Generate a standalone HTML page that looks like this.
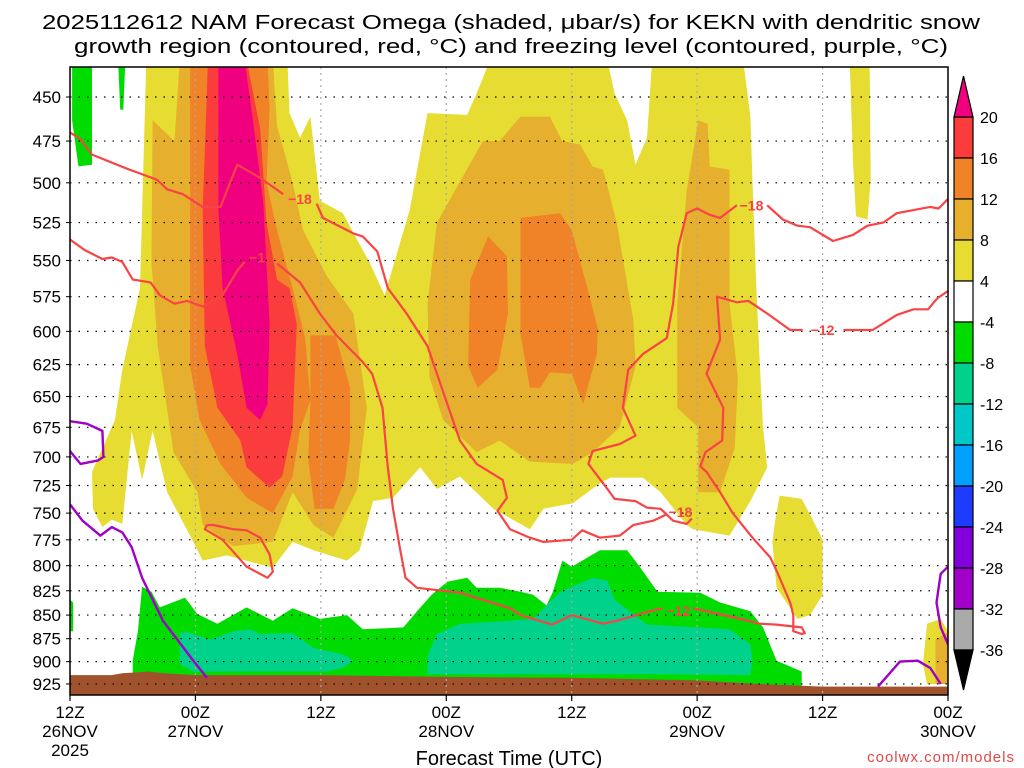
<!DOCTYPE html>
<html><head><meta charset="utf-8"><style>
html,body{margin:0;padding:0;background:#fff;}
svg{display:block;font-family:"Liberation Sans",sans-serif;}
</style></head><body>
<svg id="chart" width="1024" height="768" viewBox="0 0 1024 768" xmlns="http://www.w3.org/2000/svg">
<defs><clipPath id="plotclip"><rect x="70" y="67" width="878" height="628"/></clipPath></defs>
<g font-size="20" fill="#000">
<text x="511" y="29" text-anchor="middle" textLength="938" lengthAdjust="spacingAndGlyphs">2025112612 NAM Forecast Omega (shaded, μbar/s) for KEKN with dendritic snow</text>
<text x="511" y="53" text-anchor="middle" textLength="874" lengthAdjust="spacingAndGlyphs">growth region (contoured, red, °C) and freezing level (contoured, purple, °C)</text>
</g>
<g id="fills" clip-path="url(#plotclip)"></g>
<g id="grid"></g>
<g id="contours" clip-path="url(#plotclip)"></g>
<rect x="70" y="67" width="878" height="628" fill="none" stroke="#000" stroke-width="1.5"/>
<g id="axes" font-size="17"></g>
<g id="cbar" font-size="16"></g>
<text x="509" y="765" text-anchor="middle" font-size="20">Forecast Time (UTC)</text>
<text x="1015" y="762" text-anchor="end" font-size="15" fill="#e04848" letter-spacing="1">coolwx.com/models</text>
</svg>
<script>
// ---- data (hours since 12Z 26NOV, pressure hPa) ----
const levels = [450,475,500,525,550,575,600,625,650,675,700,725,750,775,800,825,850,875,900,925];
const timeTicks = [0,12,24,36,48,60,72,84];
const timeLabels = [["12Z","26NOV","2025"],["00Z","27NOV"],["12Z"],["00Z","28NOV"],["12Z"],["00Z","29NOV"],["12Z"],["00Z","30NOV"]];
const cbarLevels = ["20","16","12","8","4","-4","-8","-12","-16","-20","-24","-28","-32","-36"];
const cbarColors = ["#fa3c3c","#f08228","#e6af2d","#e6dc32","#ffffff","#00dc00","#00d28c","#00c8c8","#00a0ff","#1e3cff","#8200dc","#a000c8","#aaaaaa"];

const yellowMain = [[7.3,430],[6.7,569],[5,629],[4.3,669],[2.1,713],[2.2,746],[3.1,763],[4,756],[5,760],[5.9,678],[6.9,720],[7.9,678],[9.3,731],[11.8,777],[12.7,795],[15,790],[19.4,802],[21.3,777],[23.3,785],[26.5,795],[27.7,785],[29,739],[30.9,736],[33.5,709],[35.1,728],[37.3,717],[40.5,746],[44,765],[45.3,746],[48.1,741],[50.7,723],[51.7,718],[54.8,718],[56.5,731],[59,761],[59.6,765],[63.1,771],[65.1,739],[66.7,709],[66.3,675],[66,626],[65.7,575],[65.3,500],[65.1,461],[64.4,430],[55.7,430],[55.2,473],[54.1,489],[53.3,463],[52.1,448],[51.4,430],[40.2,430],[38.9,448],[38,460],[34.2,459],[32.5,517],[30.1,574],[28.7,552],[26.1,519],[23.9,511],[23,461],[22,473],[21,459],[20.8,430]];
const yellowStrip = [[74.6,430],[76.5,430],[76.6,498],[76.3,523],[75.2,521],[74.9,486]];
const yellowLowRight = [[67.9,734],[70,737],[71,755],[72,775],[72,829],[70.8,850],[69.6,854],[67.6,822],[67.2,777],[67.5,755]];
const yellowCorner = [[82,859],[83.3,854],[84,867],[84,925],[82,925],[81.6,903]];
const goldCorner = [[82.8,876],[84,868],[84,925],[82.8,925]];
const goldMain = [[10.5,430],[10,475],[7.9,463],[7.8,552],[8.4,611],[9.9,696],[12.2,731],[12.7,761],[15.6,781],[19.4,777],[21.3,731],[23.3,761],[25.2,773],[27.5,728],[28.4,659],[27.1,587],[24.6,561],[22.3,530],[21.3,500],[19.8,466],[19.4,430]];
const goldMid = [[39.5,475],[41.1,475],[43.1,461],[45.9,461],[47.1,475],[48.8,477],[50,490],[51,492],[52.3,525],[53.9,592],[54.1,626],[52.6,675],[50,696],[48.1,706],[44,704],[41.1,686],[38.9,696],[35.7,669],[34.4,635],[34.2,580],[35.1,525]];
const goldRight = [[60.1,463],[61,465],[61.2,490],[63.1,492],[63.1,580],[63.9,635],[63.6,692],[62.2,731],[60.1,731],[60.1,675],[58.1,659],[58.1,580],[59,505]];
const orangeMain = [[11.5,430],[11.5,626],[12.4,669],[14.4,706],[16.9,736],[19.4,750],[21.3,717],[22,677],[23,653],[22.5,605],[21.3,569],[19.8,530],[18.8,500],[19.1,457],[18.9,430]];
const orangeLobe = [[23,603],[25.4,603],[26.8,643],[26.8,686],[26.3,720],[25.2,746],[23.4,746],[22.8,703],[23,653]];
const orangeMid1 = [[40,534],[38.3,563],[38.1,626],[39,643],[40.9,629],[41.9,587],[41.8,547]];
const orangeMid2 = [[43.1,522],[46.9,519],[48,530],[49.5,569],[50.5,598],[50.4,617],[49.1,656],[48,632],[45.9,631],[45,643],[44,643],[43.1,602]];
const redCore = [[13.2,430],[12.7,517],[12.9,611],[14.1,659],[16.3,686],[16.9,709],[19.1,727],[20.3,717],[21.3,675],[21.7,595],[21,569],[19.8,563],[18.8,525],[18.2,468],[16.9,430]];
const magentaCore = [[14.2,430],[14.2,517],[14.6,569],[16,617],[16.9,659],[18.2,669],[18.9,656],[19.1,595],[18.5,513],[17.5,463],[16.7,430]];
const greenMain = [[6.9,821],[7.8,826],[8.6,842],[11,832],[12.2,849],[14.1,859],[16.9,842],[19.4,856],[21.3,843],[23.9,854],[26.5,850],[28,865],[31.9,863],[33.2,846],[34.6,829],[36.1,816],[38,812],[38.9,822],[41.1,822],[43.1,826],[44.3,829],[45.6,840],[46.2,826],[47.1,795],[48,801],[50.7,785],[53.3,785],[54.5,801],[56.2,826],[60.3,827],[62.2,837],[65.1,846],[66.3,863],[67.6,899],[70,911],[70,940],[6,940],[6,899],[6.5,867]];
const greenTopLeft = [[0.2,430],[2.1,430],[2.1,489],[0.8,490],[0.2,463]];
const greenStrip = [[4.6,430],[5.3,430],[5.1,457],[4.8,457]];
const greenTiny = [[0,834],[0.3,837],[0.3,867],[0,867]];
const tealLeft = [[10.5,870],[11,867],[13.4,876],[15.6,867],[17.2,865],[18.2,870],[21.3,869],[23.3,885],[26.1,892],[27.1,899],[26.1,907],[24.6,911],[11.8,911],[10.5,903]];
const tealMid = [[34.2,894],[35.1,870],[37.3,859],[42.1,856],[44.3,854],[46.9,826],[47.8,822],[50,812],[51.4,815],[52.1,834],[55.2,860],[63.1,865],[65.1,881],[65.3,899],[65.1,915],[57.1,914],[41.1,914],[34.2,914]];
const groundHours = [0,4,5,7.5,9,12,24,36,48,60,66,72,84];
const groundPres = [915,915,913,911,913,915,915,917,918,921,925,928,928];

const freezeA = [[0,670],[1.6,672],[3.1,678],[3.2,700],[2.7,703],[1,706],[0,695]];
const freezeB = [[0,742],[1.2,757],[2.9,771],[4,763],[5,768],[5.9,782],[6.9,812],[8.9,856],[11.8,899],[13.1,918]];
const freezeC = [[77.3,928],[79.4,900],[81.1,899],[82.3,907],[83.3,925]];
const freezeD = [[84,801],[83.3,808],[82.9,837],[83.3,863],[84,881]];

const dgzA1 = [[0,470],[1,474],[2.1,483],[5.7,492],[8.3,498],[9.3,504],[10.8,507],[12.7,515],[14.4,515],[16,489],[18.2,497],[20.4,507]];
const dgzA2 = [[23.6,513],[24.2,522],[27.1,532],[28,534],[29.4,544],[30.4,569],[32.2,587],[34.2,611],[36.1,656],[37.3,686],[38.9,706],[41.4,720],[41.8,736],[40.9,748],[42.1,765],[44,773],[45.3,777],[48,775],[49,766],[50.7,773],[52.6,771],[53.9,761],[55.8,757],[57.1,751]];
const dgzA3 = [[59.5,755],[59,760],[57.7,757],[56.5,746],[55.2,745],[54.1,739],[52.1,737],[51.4,728],[49.6,706],[50,695],[52.6,689],[54.1,682],[52.9,659],[53.4,629],[54.8,617],[57.1,605],[57.7,580],[58.2,541],[59,519],[60,516],[61.2,520],[62.2,522],[63.8,514]];
const dgzA4 = [[66.7,514],[68.2,523],[69.6,527],[70.8,528],[73,537],[74.9,533],[76.3,527],[77.8,525],[79.1,519],[80.7,517],[82.3,515],[83.1,516],[84,510]];
const dgzB1 = [[0,536],[1.4,543],[3.1,549],[4,548],[5,551],[6,563],[7.7,565],[8.6,574],[10,580],[11.2,578],[12.7,582],[14.5,575],[16,557],[16.7,551]];
const dgzB2 = [[19.8,552],[22,565],[23.9,587],[25.5,603],[28,623],[28.9,632],[29.9,659],[30.4,709],[30.9,746],[31.6,785],[32.1,812],[33.2,822],[37.3,827],[42.1,843],[43.1,850],[46.1,860],[48,850],[51,859],[52.3,856],[55.5,846],[56.7,843]];
const dgzB3 = [[59.6,843],[63.4,852],[66,859],[67.6,860],[70,863],[70.3,869],[70,870],[69.2,867],[69.2,850],[68.9,837],[67.6,805],[67,792],[65.3,773],[63.4,750],[62.2,731],[60.9,713],[60.3,708],[60.8,696],[62.4,686],[62.5,659],[60.9,632],[62.2,606],[61.9,575],[63.8,579],[64.9,578],[66.7,587],[68.9,599],[70.1,599]];
const dgzB4 = [[74,599],[76.8,599],[79.1,588],[80.7,584],[82.1,584],[83,576],[84,571]];
const dgzLoop = [[13.1,761],[12.9,765],[14.6,775],[16.9,801],[18.9,812],[19.4,806],[19.1,789],[18.2,773],[16.9,766],[15.6,765],[13.7,761],[13.1,761]];
const contourLabels = [["−18",22,510],["−18",58.4,749],["−18",65.2,514],["−1",17.9,548],["−12",72,599],["−12",58.2,846]];

// ---- axis functions (log-pressure vertical axis) ----
const X0=70, X1=948, PTOP=450, YTOP=97, LOGSCALE=814.6;
function xs(h){ return X0 + h*(X1-X0)/84; }
function ys(p){ return YTOP + LOGSCALE*Math.log(p/PTOP); }
const NS='http://www.w3.org/2000/svg';
function mk(tag, attrs, parent){ const e=document.createElementNS(NS,tag); for(const k in attrs) e.setAttribute(k,attrs[k]); parent.appendChild(e); return e; }
function pts(arr){ return arr.map(d=>xs(d[0]).toFixed(1)+','+ys(d[1]).toFixed(1)).join(' '); }

const fills=document.getElementById('fills');
function poly(arr,color,name){
  const e=mk('polygon',{points:pts(arr),fill:color},fills);
  
  
}
poly(yellowMain,'#e6dc32','omega-4-8-main');
poly(yellowStrip,'#e6dc32','omega-4-8-strip');
poly(yellowLowRight,'#e6dc32','omega-4-8-lower-right');
poly(yellowCorner,'#e6dc32','omega-4-8-corner');
poly(goldCorner,'#e6af2d','omega-8-12-corner');
poly(goldMain,'#e6af2d','omega-8-12-main');
poly(goldMid,'#e6af2d','omega-8-12-mid');
poly(goldRight,'#e6af2d','omega-8-12-right');
poly(orangeMain,'#f08228','omega-12-16-main');
poly(orangeLobe,'#f08228','omega-12-16-lobe');
poly(orangeMid1,'#f08228','omega-12-16-mid-a');
poly(orangeMid2,'#f08228','omega-12-16-mid-b');
poly(redCore,'#fa3c3c','omega-16-20-core');
poly(magentaCore,'#f0007f','omega-above-20-core');
poly(greenMain,'#00dc00','omega-neg4-neg8-main');
poly(greenTopLeft,'#00dc00','omega-neg4-neg8-top-left');
poly(greenStrip,'#00dc00','omega-neg4-neg8-strip');
poly(greenTiny,'#00dc00','omega-neg4-neg8-tiny');
poly(tealLeft,'#00d28c','omega-neg8-neg12-left');
poly(tealMid,'#00d28c','omega-neg8-neg12-mid');
const ground=groundHours.map((h,i)=>[h,groundPres[i]]).concat([[84,960],[0,960]]);
poly(ground,'#a0522d','terrain');

// ---- grid ----
const grid=document.getElementById('grid');
levels.forEach(p=>{
  const l=mk('line',{x1:X0,x2:X1,y1:ys(p),y2:ys(p),stroke:'#000','stroke-width':1.2,'stroke-dasharray':'1.5,7'},grid);
  
  
});
timeTicks.slice(1,-1).forEach(h=>{
  const l=mk('line',{x1:xs(h),x2:xs(h),y1:67,y2:695,stroke:'#aaa','stroke-width':1.2,'stroke-dasharray':'2,4'},grid);
  
  
});

// ---- contours ----
const cg=document.getElementById('contours');
function line(arr,color,name,w){
  const e=mk('polyline',{points:pts(arr),fill:'none',stroke:color,'stroke-width':w||2.2,'stroke-linejoin':'round'},cg);
  
  
}
[dgzA1,dgzA2,dgzA3,dgzA4].forEach((a,i)=>line(a,'#f84444','dgz-minus18-segment-'+i));
[dgzB1,dgzB2,dgzB3,dgzB4].forEach((a,i)=>line(a,'#f84444','dgz-minus12-segment-'+i));
line(dgzLoop,'#f84444','dgz-minus18-loop');
[freezeA,freezeB,freezeC,freezeD].forEach((a,i)=>line(a,'#a000c8','freezing-level-'+i,2.4));
contourLabels.forEach(c=>{
  const t=mk('text',{x:xs(c[1]),y:ys(c[2])+5,'text-anchor':'middle','font-size':14,'font-weight':'bold',fill:'#f84444'},cg);
  t.textContent=c[0];
  
  
});

// ---- axes ----
const ax=document.getElementById('axes');
levels.forEach(p=>{
  const t=mk('text',{x:61,y:ys(p)+6,'text-anchor':'end'},ax);
  t.textContent=String(p);
  
  
  const k=mk('line',{x1:66,x2:70,y1:ys(p),y2:ys(p),stroke:'#000','stroke-width':1},ax);
  
  
});
timeTicks.forEach((h,i)=>{
  const k=mk('line',{x1:xs(h),x2:xs(h),y1:695,y2:701,stroke:'#000','stroke-width':1.2},ax);
  
  
  timeLabels[i].forEach((s,j)=>{
    const t=mk('text',{x:xs(h),y:718+j*19,'text-anchor':'middle'},ax);
    t.textContent=s;
    
    
  });
});

// ---- colorbar ----
const cb=document.getElementById('cbar');
const CBX=954, CBW=19, CBTOP=117, CBH=41;
cbarColors.forEach((c,i)=>{
  const r=mk('rect',{x:CBX,y:CBTOP+i*CBH,width:CBW,height:CBH,fill:c,stroke:'#000','stroke-width':1.2},cb);
  
  
});
const tri1=mk('polygon',{points:`${CBX},${CBTOP} ${CBX+CBW},${CBTOP} ${CBX+CBW/2},76`,fill:'#f0007f',stroke:'#000','stroke-width':1.2},cb);


const cbBottom=CBTOP+cbarColors.length*CBH;
const tri2=mk('polygon',{points:`${CBX},${cbBottom} ${CBX+CBW},${cbBottom} ${CBX+CBW/2},690`,fill:'#000',stroke:'#000','stroke-width':1.2},cb);


cbarLevels.forEach((s,i)=>{
  const t=mk('text',{x:980,y:CBTOP+i*CBH+6},cb);
  t.textContent=s;
  
  
});
</script>
</body></html>
